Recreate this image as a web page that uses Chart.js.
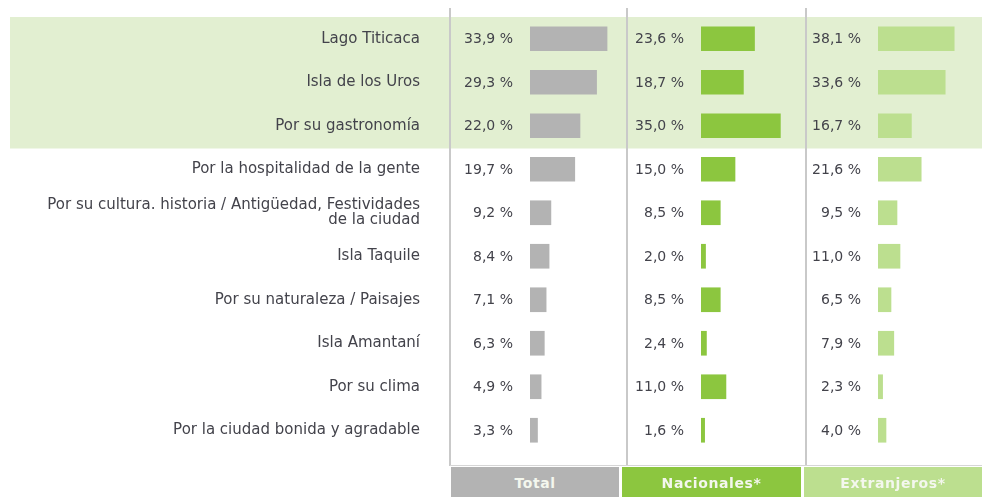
<!DOCTYPE html>
<html>
<head>
<meta charset="utf-8">
<script src="https://cdn.jsdelivr.net/npm/chart.js@4.4.1/dist/chart.umd.min.js"></script>
<style>
  html, body { margin: 0; padding: 0; background: #fff; }
  #wrap { position: relative; width: 982px; height: 497px; overflow: hidden; }
  .box { position: absolute; top: 0; height: 497px; }
  .sep { position: absolute; top: 8px; height: 458px; width: 2px; background: #c9c9c9; }
  .base { position: absolute; top: 465px; left: 450px; width: 532px; height: 1px; background: #d6d6d6; }
  .head { position: absolute; top: 467px; height: 30px; color: #f4f7ee; font: bold 14px "DejaVu Sans", sans-serif;
          text-align: center; line-height: 32px; letter-spacing: 0.6px; }
</style>
</head>
<body>
<div id="wrap">
  <div class="box" style="left:0;width:627px"><canvas id="cTotal"></canvas></div>
  <div class="box" style="left:627px;width:179px"><canvas id="cNac"></canvas></div>
  <div class="box" style="left:806px;width:176px"><canvas id="cExt"></canvas></div>
  <div class="sep" style="left:449px"></div>
  <div class="sep" style="left:626px"></div>
  <div class="sep" style="left:805px"></div>
  <div class="base"></div>
  <div class="head" style="left:451px;width:168px;background:#b3b3b3">Total</div>
  <div class="head" style="left:622px;width:179px;background:#8cc63f">Nacionales*</div>
  <div class="head" style="left:804px;width:178px;background:#bcdf8f">Extranjeros*</div>
</div>
<script>
// Motivos de visita
var categories = [
  'Lago Titicaca',
  'Isla de los Uros',
  'Por su gastronomía',
  'Por la hospitalidad de la gente',
  ['Por su cultura. historia / Antigüedad, Festividades', 'de la ciudad'],
  'Isla Taquile',
  'Por su naturaleza / Paisajes',
  'Isla Amantaní',
  'Por su clima',
  'Por la ciudad bonida y agradable'
];
var total       = [33.9, 29.3, 22.0, 19.7, 9.2, 8.4, 7.1, 6.3, 4.9, 3.3];
var nacionales  = [23.6, 18.7, 35.0, 15.0, 8.5, 2.0, 8.5, 2.4, 11.0, 1.6];
var extranjeros = [38.1, 33.6, 16.7, 21.6, 9.5, 11.0, 6.5, 7.9, 2.3, 4.0];
var highlightRows = 3;

var textColor = '#43434b';
var fontFamily = '"DejaVu Sans", sans-serif';

// green band behind the first rows
var bandPlugin = {
  id: 'band',
  beforeDraw: function(chart, args, opts) {
    var y = chart.scales.y, ctx = chart.ctx;
    var step = (y.bottom - y.top) / categories.length;
    ctx.save();
    ctx.fillStyle = '#e2efd1';
    ctx.fillRect(opts.left || 0, y.top, chart.width, step * highlightRows + 1);
    ctx.restore();
  }
};

// "33,9 %" labels left of each bar
var valuePlugin = {
  id: 'values',
  afterDatasetsDraw: function(chart) {
    var ctx = chart.ctx, x0 = chart.scales.x.getPixelForValue(0);
    var meta = chart.getDatasetMeta(0);
    ctx.save();
    ctx.font = '14px ' + fontFamily;
    ctx.fillStyle = textColor;
    ctx.textAlign = 'right';
    ctx.textBaseline = 'middle';
    chart.data.datasets[0].data.forEach(function(v, i) {
      ctx.fillText(v.toFixed(1).replace('.', ',') + ' %', x0 - 17, meta.data[i].y + 1);
    });
    ctx.restore();
  }
};

function makeChart(id, data, color, max, padLeft, padRight, showLabels, bandLeft) {
  var yAxis = { display: false };
  if (showLabels) {
    yAxis = {
      grid: { display: false, drawTicks: false },
      border: { display: false },
      ticks: {
        color: textColor,
        padding: 110,
        font: { family: fontFamily, size: 15, lineHeight: 1.0 }
      },
      afterFit: function(scale) {
        scale.width = 530;
        scale.paddingTop = 0;
        scale.paddingBottom = 0;
      }
    };
  }
  return new Chart(document.getElementById(id), {
    type: 'bar',
    data: {
      labels: categories,
      datasets: [{ data: data, backgroundColor: color, barThickness: 24, borderWidth: 0 }]
    },
    options: {
      indexAxis: 'y',
      responsive: true,
      maintainAspectRatio: false,
      animation: false,
      layout: { padding: { top: 17, bottom: 45, left: padLeft, right: padRight } },
      plugins: {
        legend: { display: false },
        tooltip: { enabled: false },
        band: { left: bandLeft }
      },
      scales: {
        x: { display: false, min: 0, max: max },
        y: yAxis
      }
    },
    plugins: [bandPlugin, valuePlugin]
  });
}

makeChart('cTotal', total, '#b3b3b3', 39.6, 0, 7, true, 10);
makeChart('cNac', nacionales, '#8cc63f', 46.3, 74, 0, false, 0);
makeChart('cExt', extranjeros, '#bcdf8f', 52, 72, 0, false, 0);
</script>
</body>
</html>
